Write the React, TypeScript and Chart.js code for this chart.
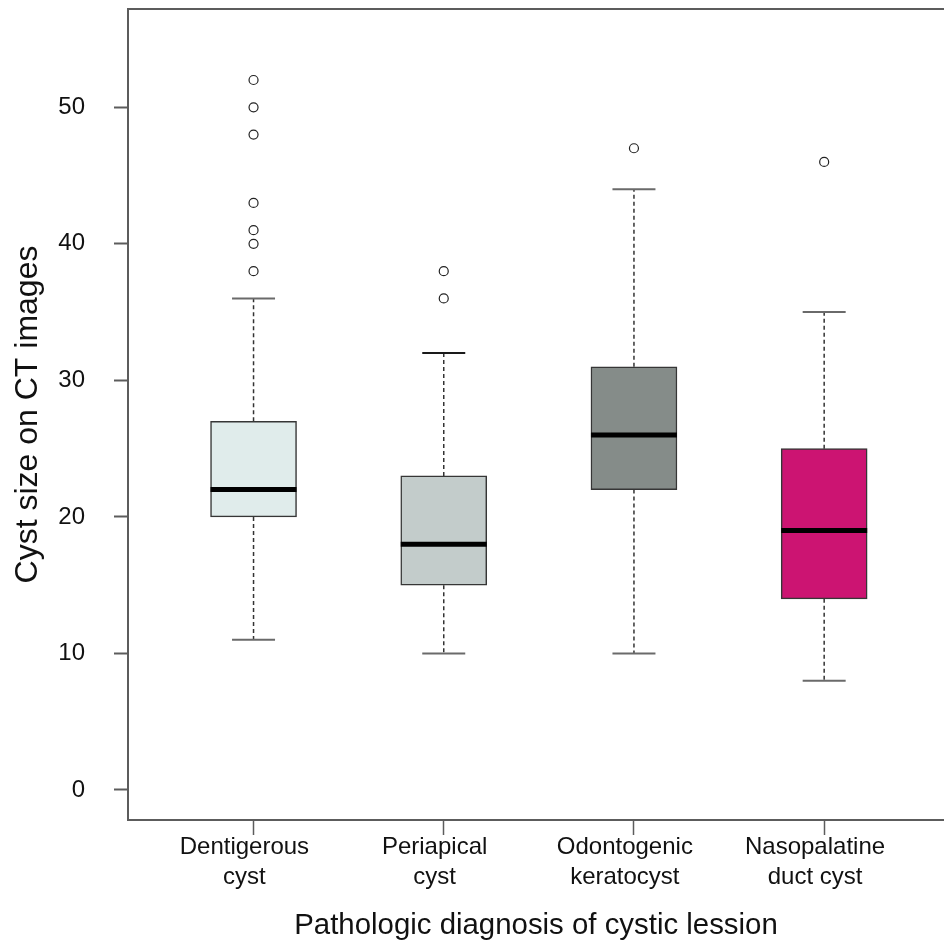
import React, { useEffect, useRef } from 'react';
import { Chart, registerables } from 'chart.js';

Chart.register(...registerables);

// ---- data ----
const categoryLines: string[][] = [
  ['Dentigerous', 'cyst'],
  ['Periapical', 'cyst'],
  ['Odontogenic', 'keratocyst'],
  ['Nasopalatine', 'duct cyst'],
];
const lowerWhisker = [11, 10, 10, 8];
const q1 = [20, 15, 22, 14];
const median = [22, 18, 26, 19];
const q3 = [27, 23, 31, 25];
const upperWhisker = [36, 32, 44, 35];
const outliers: number[][] = [
  [38, 40, 41, 43, 48, 50, 52],
  [36, 38],
  [47],
  [46],
];
const yTicks = [0, 10, 20, 30, 40, 50];
const boxColors = ['#E0ECEB', '#C3CCCB', '#858C89', '#CC1472'];

const yTitle = 'Cyst size on CT images';
const xTitle = 'Pathologic diagnosis of cystic lession';

const FONT = "'Liberation Sans', Arial, Helvetica, sans-serif";
const AXIS_GRAY = '#5c5c5c';

const X_MIN = 0.34;
const X_MAX = 4.63;
const LABEL_SHIFT = 0.048; // category labels sit slightly left of their tick marks

function zeroPadding(s: any) {
  s.paddingLeft = 0;
  s.paddingRight = 0;
  s.paddingTop = 0;
  s.paddingBottom = 0;
}

export default function App() {
  const ref = useRef<HTMLCanvasElement | null>(null);

  useEffect(() => {
    if (!ref.current) return;

    const whiskerData: any[] = [];
    categoryLines.forEach((_, i) => {
      whiskerData.push({ x: i + 1, y: q3[i] });
      whiskerData.push({ x: i + 1, y: upperWhisker[i] });
      whiskerData.push({ x: i + 1, y: null });
      whiskerData.push({ x: i + 1, y: q1[i] });
      whiskerData.push({ x: i + 1, y: lowerWhisker[i] });
      whiskerData.push({ x: i + 1, y: null });
    });

    const stapleData: any[] = [];
    const stapleColors: string[] = [];
    categoryLines.forEach((_, i) => {
      stapleData.push({ x: i + 1, y: upperWhisker[i] });
      stapleColors.push(i === 1 ? '#1a1a1a' : '#6a6a6a');
      stapleData.push({ x: i + 1, y: lowerWhisker[i] });
      stapleColors.push('#6a6a6a');
    });

    const outlierData: any[] = [];
    outliers.forEach((arr, i) => arr.forEach((v) => outlierData.push({ x: i + 1, y: v })));

    const framePlugin = {
      id: 'frameTop',
      afterDraw(chart: any) {
        const { ctx, chartArea } = chart;
        ctx.save();
        ctx.strokeStyle = AXIS_GRAY;
        ctx.lineWidth = 2;
        ctx.beginPath();
        ctx.moveTo(chartArea.left - 1, chartArea.top);
        ctx.lineTo(chart.width, chartArea.top);
        ctx.stroke();
        ctx.restore();
      },
    };

    const chart = new Chart(ref.current, {
      type: 'bar',
      data: {
        datasets: [
          {
            type: 'line',
            data: whiskerData,
            borderColor: '#333333',
            borderWidth: 1.5,
            borderDash: [4, 3],
            pointRadius: 0,
            spanGaps: false,
            fill: false,
            order: 4,
          } as any,
          {
            type: 'bar',
            data: categoryLines.map((_, i) => ({ x: i + 1, y: [q1[i], q3[i]] })),
            backgroundColor: boxColors,
            borderColor: '#363636',
            borderWidth: 1.5,
            borderSkipped: false,
            barThickness: 86,
            order: 3,
          } as any,
          {
            type: 'line',
            showLine: false,
            data: categoryLines.map((_, i) => ({ x: i + 1, y: median[i] })),
            pointStyle: 'line',
            pointRadius: 43,
            pointHoverRadius: 43,
            pointBorderWidth: 5,
            borderWidth: 5,
            borderColor: '#000000',
            pointBorderColor: '#000000',
            order: 2,
          } as any,
          {
            type: 'line',
            showLine: false,
            data: stapleData,
            pointStyle: 'line',
            pointRadius: 21.5,
            pointHoverRadius: 21.5,
            pointBorderWidth: 2,
            borderWidth: 2,
            borderColor: '#6a6a6a',
            pointBorderColor: stapleColors,
            order: 1,
          } as any,
          {
            type: 'line',
            showLine: false,
            data: outlierData,
            pointStyle: 'circle',
            pointRadius: 4.5,
            pointHoverRadius: 4.5,
            pointBorderWidth: 1.2,
            borderColor: '#222222',
            pointBorderColor: '#222222',
            pointBackgroundColor: '#ffffff',
            order: 0,
          } as any,
        ],
      },
      options: {
        animation: false,
        responsive: false,
        devicePixelRatio: 1,
        layout: { autoPadding: false, padding: { top: 9, left: 0, right: 0, bottom: 0 } },
        plugins: {
          legend: { display: false },
          tooltip: { enabled: false },
        },
        events: [],
        scales: {
          x: {
            type: 'linear',
            position: 'bottom',
            weight: 0,
            min: X_MIN,
            max: X_MAX,
            offset: false,
            afterFit: (s: any) => {
              s.height = 15;
              zeroPadding(s);
            },
            afterBuildTicks: (s: any) => {
              s.ticks = categoryLines.map((_, i) => ({ value: i + 1 }));
            },
            grid: {
              display: true,
              offset: false,
              drawOnChartArea: false,
              drawTicks: true,
              tickLength: 15,
              tickWidth: 1.5,
              tickColor: AXIS_GRAY,
            },
            border: { display: true, color: AXIS_GRAY, width: 2 },
            ticks: { display: false },
            title: { display: false },
          } as any,
          xLabels: {
            type: 'linear',
            position: 'bottom',
            axis: 'x',
            weight: 1,
            min: X_MIN + LABEL_SHIFT,
            max: X_MAX + LABEL_SHIFT,
            offset: false,
            afterFit: (s: any) => {
              s.height = 112;
              zeroPadding(s);
            },
            afterBuildTicks: (s: any) => {
              s.ticks = categoryLines.map((_, i) => ({ value: i + 1 }));
            },
            grid: { display: false, offset: false },
            border: { display: false },
            ticks: {
              autoSkip: false,
              maxRotation: 0,
              minRotation: 0,
              padding: -11,
              color: '#111111',
              font: { family: FONT, size: 24, lineHeight: 1.25 },
              callback: (v: any) => {
                const idx = Math.round(Number(v)) - 1;
                return categoryLines[idx] ?? '';
              },
            },
            title: {
              display: true,
              text: xTitle,
              color: '#111111',
              font: { family: FONT, size: 29.4, lineHeight: 1 },
              padding: { top: 0, bottom: 6 },
            },
          } as any,
          y: {
            type: 'linear',
            position: 'left',
            min: -2.2,
            max: 57.2,
            afterFit: (s: any) => {
              s.width = 128;
              zeroPadding(s);
            },
            afterBuildTicks: (s: any) => {
              s.ticks = yTicks.map((v) => ({ value: v }));
            },
            grid: {
              display: true,
              drawOnChartArea: false,
              drawTicks: true,
              tickLength: 14,
              tickWidth: 2,
              tickColor: AXIS_GRAY,
            },
            border: { display: true, color: AXIS_GRAY, width: 2 },
            ticks: {
              padding: 29,
              color: '#111111',
              font: { family: FONT, size: 24 },
              callback: (v: any) => String(v),
            },
            title: {
              display: true,
              text: yTitle,
              color: '#111111',
              font: { family: FONT, size: 32, lineHeight: 1 },
              padding: { top: 12, bottom: 0 },
            },
          } as any,
        },
      },
      plugins: [framePlugin],
    } as any);

    return () => chart.destroy();
  }, []);

  return (
    <div style={{ position: 'fixed', left: 0, top: 0, width: 944, height: 947, background: '#ffffff' }}>
      <canvas ref={ref} width={944} height={947} style={{ display: 'block', width: 944, height: 947 }} />
    </div>
  );
}
